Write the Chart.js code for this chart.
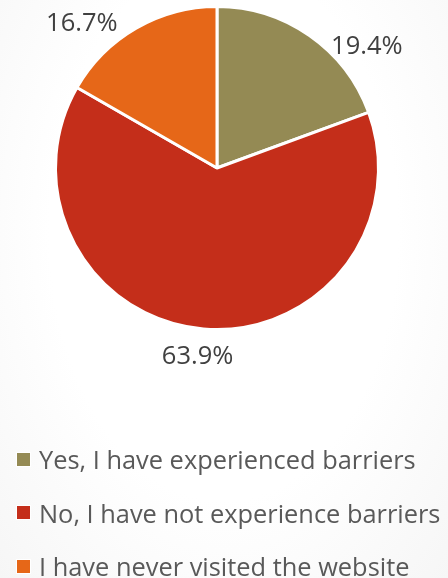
<!DOCTYPE html>
<html>
<head>
<meta charset="utf-8">
<script src="https://cdn.jsdelivr.net/npm/chart.js@4"></script>
<style>
    html, body { margin: 0; padding: 0; }
    body {
        width: 448px; height: 578px; overflow: hidden; position: relative;
        background: radial-gradient(ellipse at 50% 40%, #ffffff 55%, #f6f6f6 100%);
        font-family: "Open Sans", sans-serif;
    }
    #wrap { position: absolute; left: 0; top: 0; width: 448px; height: 578px; }
    #legend { position: absolute; left: 17px; top: 444px; margin: 0; padding: 0; list-style: none; }
    #legend li { display: flex; align-items: center; height: 30px; margin-bottom: 23.5px; color: #595959; font-size: 25.4px; white-space: nowrap; }
    #legend span.box { display: inline-block; width: 13px; height: 13px; margin-right: 9px; outline: 1px solid #fff; }
</style>
</head>
<body>
<div id="wrap"><canvas id="pie" width="448" height="578"></canvas></div>
<ul id="legend"></ul>
<script>
// Dữ liệu biểu đồ
const categories = ["Yes, I have experienced barriers", "No, I have not experience barriers", "I have never visited the website"];
const percentValues = [19.4, 63.9, 16.7];
const percentLabels = ["19.4%", "63.9%", "16.7%"];
const sliceColors = ["#948A54", "#C42E1A", "#E66718"];

// Vị trí nhãn: lệch góc (độ) so với giữa lát và khoảng cách từ tâm
const labelShift = [16, 1, -13];
const labelDistance = [193, 190, 198];

// Plugin vẽ nhãn phần trăm
const pctLabels = {
    id: "pctLabels",
    afterDatasetsDraw(chart) {
        const ctx = chart.ctx;
        const meta = chart.getDatasetMeta(0);
        ctx.save();
        ctx.font = "25.5px 'Open Sans'";
        ctx.fillStyle = "#404040";
        ctx.textAlign = "center";
        ctx.textBaseline = "middle";
        meta.data.forEach((arc, i) => {
            const p = arc.getProps(["x", "y", "startAngle", "endAngle"], true);
            const a = (p.startAngle + p.endAngle) / 2 + labelShift[i] * Math.PI / 180;
            const x = p.x + Math.cos(a) * labelDistance[i];
            const y = p.y + Math.sin(a) * labelDistance[i];
            ctx.fillText(percentLabels[i], x, y);
        });
        ctx.restore();
    }
};

const ctx = document.getElementById("pie").getContext("2d");
const pieChart = new Chart(ctx, {
    type: "pie",
    data: {
        labels: categories,
        datasets: [{
            data: percentValues,
            backgroundColor: sliceColors,
            borderColor: "#ffffff",
            borderWidth: 3
        }]
    },
    options: {
        responsive: false,
        animation: false,
        layout: { padding: { top: 5, bottom: 247, left: 54, right: 68 } },
        plugins: {
            legend: { display: false },
            tooltip: { enabled: false }
        }
    },
    plugins: [pctLabels]
});

// Chú thích dạng HTML
const legendEl = document.getElementById("legend");
categories.forEach((name, i) => {
    const li = document.createElement("li");
    const box = document.createElement("span");
    box.className = "box";
    box.style.background = sliceColors[i];
    li.appendChild(box);
    li.appendChild(document.createTextNode(name));
    legendEl.appendChild(li);
});
</script>
</body>
</html>
